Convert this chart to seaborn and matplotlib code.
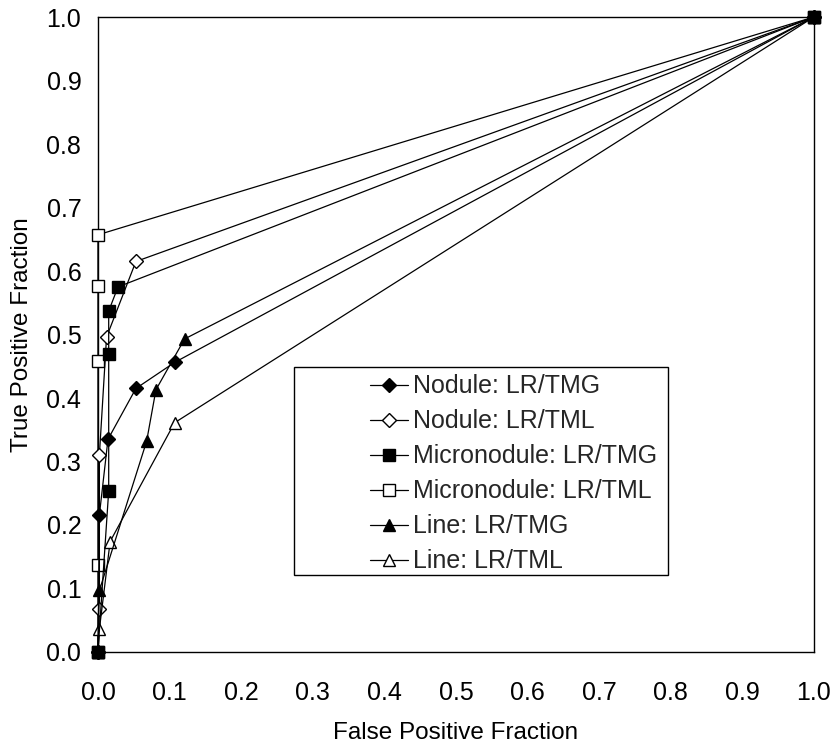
"""ROC curves: LR/TMG vs LR/TML for nodule, micronodule and line patterns."""

import matplotlib

matplotlib.use("Agg")
import matplotlib.pyplot as plt
import pandas as pd
import seaborn as sns
from matplotlib.patches import Rectangle

# -------------------------------
# Data
# -------------------------------
SERIES = [
    "Nodule: LR/TMG",
    "Nodule: LR/TML",
    "Micronodule: LR/TMG",
    "Micronodule: LR/TML",
    "Line: LR/TMG",
    "Line: LR/TML",
]

nodule_tmg_fpf = [0.0, 0.002, 0.014, 0.053, 0.107, 1.0]
nodule_tmg_tpf = [0.0, 0.216, 0.335, 0.415, 0.456, 1.0]

nodule_tml_fpf = [0.0, 0.002, 0.002, 0.012, 0.053, 1.0]
nodule_tml_tpf = [0.0, 0.067, 0.310, 0.496, 0.615, 1.0]

micro_tmg_fpf = [0.0, 0.015, 0.015, 0.015, 0.028, 1.0]
micro_tmg_tpf = [0.0, 0.254, 0.469, 0.537, 0.575, 1.0]

micro_tml_fpf = [0.0, 0.0, 0.0, 0.0, 0.0, 1.0]
micro_tml_tpf = [0.0, 0.137, 0.459, 0.576, 0.657, 1.0]

line_tmg_fpf = [0.0, 0.002, 0.068, 0.081, 0.121, 1.0]
line_tmg_tpf = [0.0, 0.097, 0.332, 0.413, 0.493, 1.0]

line_tml_fpf = [0.0, 0.002, 0.017, 0.107, 1.0]
line_tml_tpf = [0.0, 0.036, 0.174, 0.361, 1.0]

FPF = [nodule_tmg_fpf, nodule_tml_fpf, micro_tmg_fpf, micro_tml_fpf, line_tmg_fpf, line_tml_fpf]
TPF = [nodule_tmg_tpf, nodule_tml_tpf, micro_tmg_tpf, micro_tml_tpf, line_tmg_tpf, line_tml_tpf]

# marker, filled?, marker size, drawing order
STYLES = {
    "Nodule: LR/TMG": ("D", True, 7.5, 3.4),
    "Nodule: LR/TML": ("D", False, 7.5, 3.1),
    "Micronodule: LR/TMG": ("s", True, 8, 3.6),
    "Micronodule: LR/TML": ("s", False, 8, 3.0),
    "Line: LR/TMG": ("^", True, 9, 3.5),
    "Line: LR/TML": ("^", False, 9, 3.2),
}

TICKS = [round(i / 10, 1) for i in range(11)]

# -------------------------------
# Plot
# -------------------------------
sns.set_style("white")
plt.rcParams["font.family"] = ["Liberation Sans", "DejaVu Sans"]

df = pd.concat(
    [pd.DataFrame({"fpf": x, "tpf": y, "series": name}) for name, x, y in zip(SERIES, FPF, TPF)],
    ignore_index=True,
)

fig = plt.figure(figsize=(8.33, 7.47), dpi=100)
ax = fig.add_axes([0.1176, 0.1272, 0.8594, 0.8500])

for name in SERIES:
    marker, filled, ms, z = STYLES[name]
    sub = df[df["series"] == name]
    sns.lineplot(
        data=sub,
        x="fpf",
        y="tpf",
        ax=ax,
        estimator=None,
        sort=False,
        color="black",
        linewidth=0.9,
        marker=marker,
        markersize=ms,
        mfc="black" if filled else "white",
        mec="black",
        mew=1.0,
        clip_on=False,
        label=name,
        zorder=z,
    )

ax.set_xlim(0, 1)
ax.set_ylim(0, 1)
ax.set_xticks(TICKS)
ax.set_yticks(TICKS)
ax.set_xticklabels([f"{t:.1f}" for t in TICKS])
ax.set_yticklabels([f"{t:.1f}" for t in TICKS])
ax.tick_params(direction="inout", length=8, width=0.9, color="black", labelsize=18, labelcolor="black")
ax.tick_params(axis="x", pad=17)
ax.tick_params(axis="y", pad=8)
for spine in ax.spines.values():
    spine.set_color("black")
    spine.set_linewidth(1.0)

ax.set_xlabel("False Positive Fraction", fontsize=17.5, labelpad=12, color="black")
ax.set_ylabel("True Positive Fraction", fontsize=17.5, labelpad=10, color="black")

# legend box drawn separately so the entries can sit indented like the original
ax.add_patch(
    Rectangle((0.274, 0.121), 0.522, 0.328, transform=ax.transAxes, fill=True,
              facecolor="white", edgecolor="black", linewidth=1.0, zorder=4)
)
leg = ax.legend(
    loc="upper left",
    bbox_to_anchor=(0.37, 0.449),
    frameon=False,
    fontsize=18,
    handlelength=1.5,
    handletextpad=0.2,
    labelspacing=0.44,
    borderpad=0.3,
    borderaxespad=0,
)
leg.set_zorder(5)

fig.savefig("out.png", dpi=100)
